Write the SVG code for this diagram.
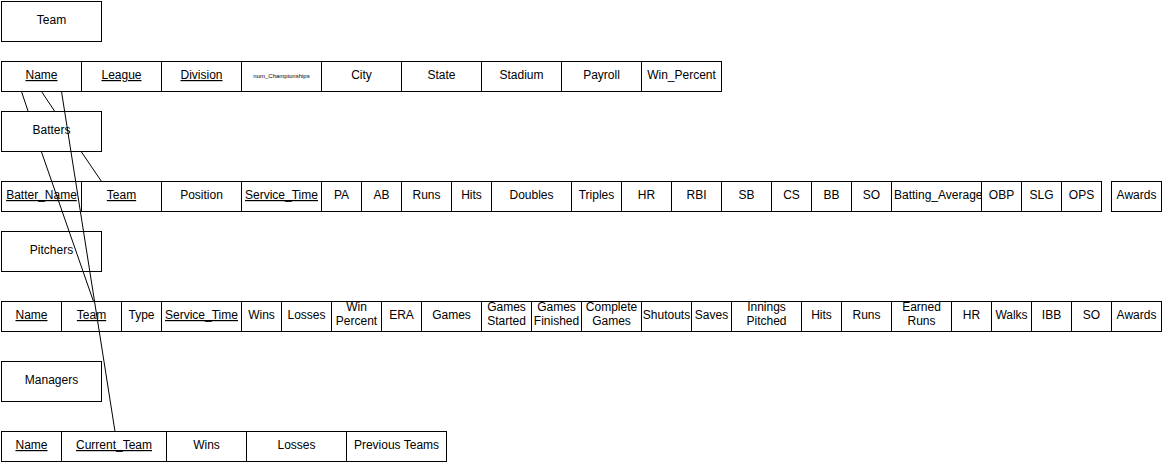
<svg xmlns="http://www.w3.org/2000/svg" width="1163" height="466" viewBox="0 0 1163 466">
<style>
rect{fill:#fff;stroke:#000;stroke-width:1}
text{font-family:"Liberation Sans",Arial,Helvetica,sans-serif;font-size:12px;fill:#000;text-anchor:middle}
.u{text-decoration:underline}
.tiny{font-size:6px}
.st{text-anchor:start}
.conn line,.conn path{stroke:#000;stroke-width:1;fill:none}
</style>
<rect x="0" y="0" width="1163" height="466" style="stroke:none"/>

<g id="team-label"><rect x="1.5" y="1.5" width="100" height="40"/><text x="51.5" y="23.5">Team</text></g>
<g id="team-table">
<rect x="1.5" y="61.5" width="80" height="30"/><text class="u" x="41.5" y="79">Name</text>
<rect x="81.5" y="61.5" width="80" height="30"/><text class="u" x="121.5" y="79">League</text>
<rect x="161.5" y="61.5" width="80" height="30"/><text class="u" x="201.5" y="79">Division</text>
<rect x="241.5" y="61.5" width="80" height="30"/><text class="tiny" x="281.5" y="77.5">num_Championships</text>
<rect x="321.5" y="61.5" width="80" height="30"/><text x="361.5" y="79">City</text>
<rect x="401.5" y="61.5" width="80" height="30"/><text x="441.5" y="79">State</text>
<rect x="481.5" y="61.5" width="80" height="30"/><text x="521.5" y="79">Stadium</text>
<rect x="561.5" y="61.5" width="80" height="30"/><text x="601.5" y="79">Payroll</text>
<rect x="641.5" y="61.5" width="80" height="30"/><text x="681.5" y="79">Win_Percent</text>
</g>

<g id="batters-label"><rect x="1.5" y="111.5" width="100" height="40"/><text x="51.5" y="133.5">Batters</text></g>
<g id="batters-table">
<rect x="1.5" y="181.5" width="80" height="30"/><text class="u" x="41.5" y="199">Batter_Name</text>
<rect x="81.5" y="181.5" width="80" height="30"/><text class="u" x="121.5" y="199">Team</text>
<rect x="161.5" y="181.5" width="80" height="30"/><text x="201.5" y="199">Position</text>
<rect x="241.5" y="181.5" width="80" height="30"/><text class="u" x="281.5" y="199">Service_Time</text>
<rect x="321.5" y="181.5" width="40" height="30"/><text x="341.5" y="199">PA</text>
<rect x="361.5" y="181.5" width="40" height="30"/><text x="381.5" y="199">AB</text>
<rect x="401.5" y="181.5" width="50" height="30"/><text x="426.5" y="199">Runs</text>
<rect x="451.5" y="181.5" width="40" height="30"/><text x="471.5" y="199">Hits</text>
<rect x="491.5" y="181.5" width="80" height="30"/><text x="531.5" y="199">Doubles</text>
<rect x="571.5" y="181.5" width="50" height="30"/><text x="596.5" y="199">Triples</text>
<rect x="621.5" y="181.5" width="50" height="30"/><text x="646.5" y="199">HR</text>
<rect x="671.5" y="181.5" width="50" height="30"/><text x="696.5" y="199">RBI</text>
<rect x="721.5" y="181.5" width="50" height="30"/><text x="746.5" y="199">SB</text>
<rect x="771.5" y="181.5" width="40" height="30"/><text x="791.5" y="199">CS</text>
<rect x="811.5" y="181.5" width="40" height="30"/><text x="831.5" y="199">BB</text>
<rect x="851.5" y="181.5" width="40" height="30"/><text x="871.5" y="199">SO</text>
<rect x="891.5" y="181.5" width="90" height="30"/><text class="st" x="894" y="199">Batting_Average</text>
<rect x="981.5" y="181.5" width="40" height="30"/><text x="1001.5" y="199">OBP</text>
<rect x="1021.5" y="181.5" width="40" height="30"/><text x="1041.5" y="199">SLG</text>
<rect x="1061.5" y="181.5" width="40" height="30"/><text x="1081.5" y="199">OPS</text>
</g>
<g id="batters-awards"><rect x="1111.5" y="181.5" width="50" height="30"/><text x="1136.5" y="199">Awards</text></g>

<g id="pitchers-label"><rect x="1.5" y="231.5" width="100" height="40"/><text x="51.5" y="253.5">Pitchers</text></g>
<g id="pitchers-table">
<rect x="1.5" y="301.5" width="60" height="30"/><text class="u" x="31.5" y="319">Name</text>
<rect x="61.5" y="301.5" width="60" height="30"/><text class="u" x="91.5" y="319">Team</text>
<rect x="121.5" y="301.5" width="40" height="30"/><text x="141.5" y="319">Type</text>
<rect x="161.5" y="301.5" width="80" height="30"/><text class="u" x="201.5" y="319">Service_Time</text>
<rect x="241.5" y="301.5" width="40" height="30"/><text x="261.5" y="319">Wins</text>
<rect x="281.5" y="301.5" width="50" height="30"/><text x="306.5" y="319">Losses</text>
<rect x="331.5" y="301.5" width="50" height="30"/><text x="356.5" y="310.5">Win</text><text x="356.5" y="325">Percent</text>
<rect x="381.5" y="301.5" width="40" height="30"/><text x="401.5" y="319">ERA</text>
<rect x="421.5" y="301.5" width="60" height="30"/><text x="451.5" y="319">Games</text>
<rect x="481.5" y="301.5" width="50" height="30"/><text x="506.5" y="310.5">Games</text><text x="506.5" y="325">Started</text>
<rect x="531.5" y="301.5" width="50" height="30"/><text x="556.5" y="310.5">Games</text><text x="556.5" y="325">Finished</text>
<rect x="581.5" y="301.5" width="60" height="30"/><text x="611.5" y="310.5">Complete</text><text x="611.5" y="325">Games</text>
<rect x="641.5" y="301.5" width="50" height="30"/><text x="666.5" y="319">Shutouts</text>
<rect x="691.5" y="301.5" width="40" height="30"/><text x="711.5" y="319">Saves</text>
<rect x="731.5" y="301.5" width="70" height="30"/><text x="766.5" y="310.5">Innings</text><text x="766.5" y="325">Pitched</text>
<rect x="801.5" y="301.5" width="40" height="30"/><text x="821.5" y="319">Hits</text>
<rect x="841.5" y="301.5" width="50" height="30"/><text x="866.5" y="319">Runs</text>
<rect x="891.5" y="301.5" width="60" height="30"/><text x="921.5" y="310.5">Earned</text><text x="921.5" y="325">Runs</text>
<rect x="951.5" y="301.5" width="40" height="30"/><text x="971.5" y="319">HR</text>
<rect x="991.5" y="301.5" width="40" height="30"/><text x="1011.5" y="319">Walks</text>
<rect x="1031.5" y="301.5" width="40" height="30"/><text x="1051.5" y="319">IBB</text>
<rect x="1071.5" y="301.5" width="40" height="30"/><text x="1091.5" y="319">SO</text>
<rect x="1111.5" y="301.5" width="50" height="30"/><text x="1136.5" y="319">Awards</text>
</g>

<g id="managers-label"><rect x="1.5" y="361.5" width="100" height="40"/><text x="51.5" y="383.5">Managers</text></g>
<g id="managers-table">
<rect x="1.5" y="431.5" width="60" height="30"/><text class="u" x="31.5" y="449">Name</text>
<rect x="61.5" y="431.5" width="105" height="30"/><text class="u" x="114" y="449">Current_Team</text>
<rect x="166.5" y="431.5" width="80" height="30"/><text x="206.5" y="449">Wins</text>
<rect x="246.5" y="431.5" width="100" height="30"/><text x="296.5" y="449">Losses</text>
<rect x="346.5" y="431.5" width="100" height="30"/><text x="396.5" y="449">Previous Teams</text>
</g>

<g id="connectors" class="conn">
<path d="M21.5 91.5 L28 111 M41.5 152 L93.5 301.5"/>
<path d="M41.5 91.5 L54.5 111 M81.5 152 L101.5 181.5"/>
<line x1="61.5" y1="91.5" x2="115" y2="431.5"/>
</g>
</svg>
